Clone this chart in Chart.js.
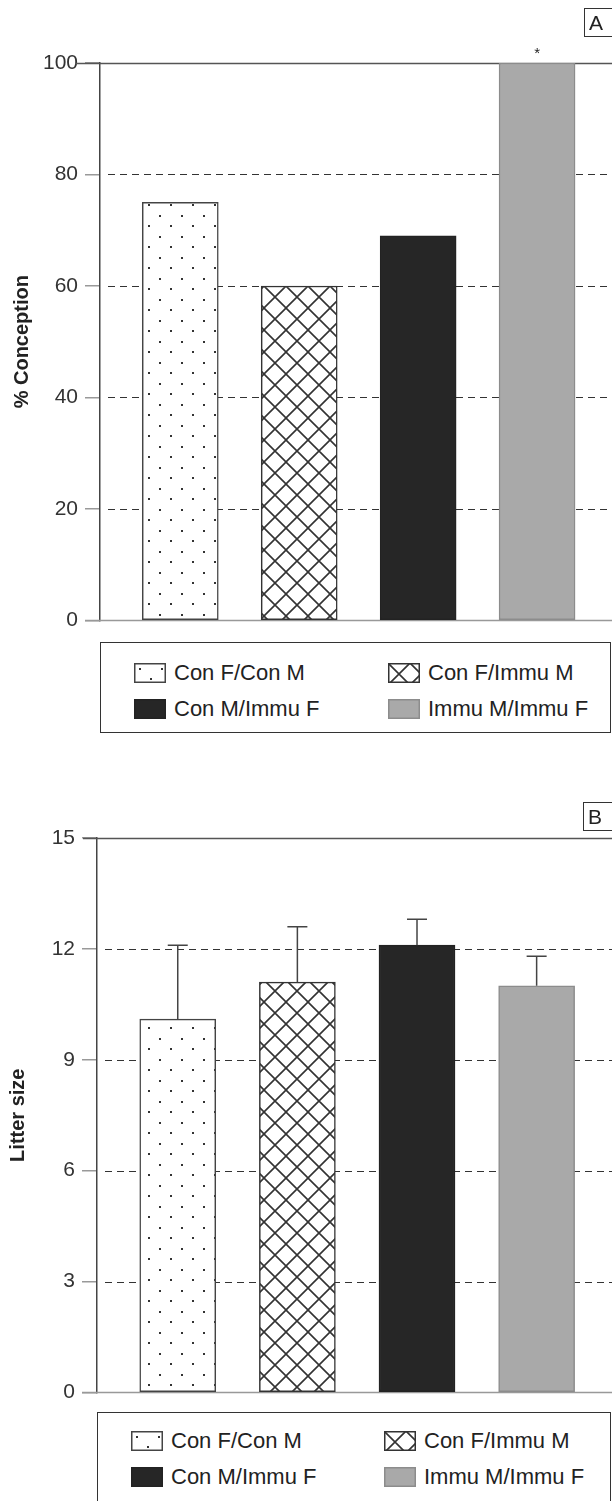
<!DOCTYPE html>
<html>
<head>
<meta charset="utf-8">
<script src="https://cdn.jsdelivr.net/npm/chart.js@4.4.0/dist/chart.umd.min.js"></script>
<style>
  body { margin: 0; background: #fff; font-family: "Liberation Sans", Arial, sans-serif; }
  #page { position: relative; width: 612px; height: 1501px; overflow: hidden; background: #fff; }
  .cv { position: absolute; left: 0; }
  .legend { position: absolute; border: 1.5px solid #333; box-sizing: border-box; }
  .item { position: absolute; height: 24px; display: flex; align-items: center; font-size: 22px; color: #222; white-space: nowrap; }
  .item canvas { margin-right: 8px; }
  .tag { position: absolute; border: 1.5px solid #333; border-right: none; font-size: 21px; color: #222; padding: 0 20px 0 4px; line-height: 27px; }
</style>
</head>
<body>
<div id="page">
  <canvas id="chartA" class="cv" width="612" height="640" style="top:0"></canvas>
  <canvas id="chartB" class="cv" width="612" height="652" style="top:760px"></canvas>
  <div class="tag" style="left:584px;top:8px">A</div>
  <div class="tag" style="left:583px;top:802px">B</div>
  <div id="legendA" class="legend" style="left:100px;top:642px;width:511px;height:91px"></div>
  <div id="legendB" class="legend" style="left:97px;top:1412px;width:514px;height:92px"></div>
</div>
<script>
// data
const categories = ['Con F/Con M', 'Con F/Immu M', 'Con M/Immu F', 'Immu M/Immu F'];
const conception = [75, 60, 69, 100];
const conceptionMarks = ['', '', '', '*'];
const conceptionTicks = [0, 20, 40, 60, 80, 100];
const litterSize = [10.1, 11.1, 12.1, 11.0];
const litterErr = [2.0, 1.5, 0.7, 0.8];
const litterTicks = [0, 3, 6, 9, 12, 15];

// fill patterns for the four groups
function dotPattern() {
    const c = document.createElement('canvas');
    c.width = 22; c.height = 21;
    const g = c.getContext('2d');
    g.fillStyle = '#fff';
    g.fillRect(0, 0, 22, 21);
    g.fillStyle = '#333';
    g.fillRect(5, 5, 2, 2);
    g.fillRect(16, 15, 2, 2);
    return g.createPattern(c, 'repeat');
}
function crossPattern() {
    const c = document.createElement('canvas');
    c.width = 22; c.height = 22;
    const g = c.getContext('2d');
    g.fillStyle = '#fff';
    g.fillRect(0, 0, 22, 22);
    g.strokeStyle = '#333';
    g.lineWidth = 1.6;
    g.beginPath();
    g.moveTo(-1, -1); g.lineTo(23, 23);
    g.moveTo(23, -1); g.lineTo(-1, 23);
    g.stroke();
    return g.createPattern(c, 'repeat');
}
const fills = [dotPattern(), crossPattern(), '#262626', '#a9a9a9'];
const edges = ['#444', '#333', '#222', '#8c8c8c'];

// gridlines, top/bottom frame, error bars and markers
const framePlugin = {
    id: 'frame',
    beforeDatasetsDraw(chart, args, opts) {
        const { ctx, chartArea: a, scales: { y } } = chart;
        ctx.save();
        y.ticks.forEach(t => {
            const py = Math.round(y.getPixelForValue(t.value)) + 0.5;
            ctx.beginPath();
            if (t.value === y.max) {
                ctx.setLineDash([]);
                ctx.strokeStyle = '#555';
                ctx.lineWidth = 1.5;
                ctx.moveTo(opts.topFrom, py);
            } else if (t.value === y.min) {
                ctx.setLineDash([]);
                ctx.strokeStyle = '#999';
                ctx.lineWidth = 1.5;
                ctx.moveTo(a.left - 15, py);
            } else {
                ctx.setLineDash([7, 5]);
                ctx.strokeStyle = '#333';
                ctx.lineWidth = 1.2;
                ctx.moveTo(a.left + 8, py);
            }
            ctx.lineTo(a.right, py);
            ctx.stroke();
        });
        ctx.restore();
    },
    afterDatasetsDraw(chart, args, opts) {
        const { ctx, scales: { x, y } } = chart;
        const vals = chart.data.datasets[0].data;
        ctx.save();
        if (opts.err) {
            ctx.strokeStyle = '#444';
            ctx.lineWidth = 1.5;
            vals.forEach((d, i) => {
                const px = x.getPixelForValue(d.x);
                const y0 = y.getPixelForValue(d.y);
                const y1 = y.getPixelForValue(d.y + opts.err[i]);
                ctx.beginPath();
                ctx.moveTo(px, y0); ctx.lineTo(px, y1);
                ctx.moveTo(px - 10, y1); ctx.lineTo(px + 10, y1);
                ctx.stroke();
            });
        }
        if (opts.marks) {
            ctx.fillStyle = '#222';
            ctx.font = '15px "Liberation Sans", Arial, sans-serif';
            ctx.textAlign = 'center';
            ctx.textBaseline = 'middle';
            vals.forEach((d, i) => {
                if (!opts.marks[i]) return;
                ctx.fillText(opts.marks[i], x.getPixelForValue(d.x), y.getPixelForValue(d.y) - 9);
            });
        }
        ctx.restore();
    }
};

function makeChart(id, values, ticks, title, axisWidth, padTop, titlePad, frame) {
    const ctx = document.getElementById(id).getContext('2d');
    return new Chart(ctx, {
        type: 'bar',
        data: {
            datasets: [{
                data: values.map((v, i) => ({ x: i, y: v })),
                backgroundColor: fills,
                borderColor: edges,
                borderWidth: 1.5,
                borderSkipped: false,
                barThickness: 76
            }]
        },
        options: {
            responsive: false,
            animation: false,
            layout: { padding: { top: padTop, bottom: 15, left: 0, right: 0 } },
            plugins: {
                legend: { display: false },
                tooltip: { enabled: false },
                frame: frame
            },
            scales: {
                x: { type: 'linear', min: -0.675, max: 3.63, offset: false, display: false },
                y: {
                    min: ticks[0],
                    max: ticks[ticks.length - 1],
                    afterBuildTicks: s => { s.ticks = ticks.map(v => ({ value: v })); },
                    afterFit: s => { s.width = axisWidth; },
                    grid: { drawOnChartArea: false, drawTicks: true, tickLength: 15, color: '#999', lineWidth: 1.5 },
                    border: { display: true, color: '#444', width: 1.5 },
                    ticks: {
                        padding: 7,
                        color: '#333',
                        font: { family: '"Liberation Sans", Arial, sans-serif', size: 21 }
                    },
                    title: {
                        display: true,
                        text: title,
                        color: '#222',
                        padding: { top: titlePad, bottom: 0 },
                        font: { family: '"Liberation Sans", Arial, sans-serif', size: 20, weight: 'bold' }
                    }
                }
            }
        },
        plugins: [framePlugin]
    });
}

makeChart('chartA', conception, conceptionTicks, '% Conception', 100, 63, 10,
    { topFrom: 75, marks: conceptionMarks });
makeChart('chartB', litterSize, litterTicks, 'Litter size', 97, 78, 6,
    { topFrom: 83, err: litterErr });

// html legends with small swatches
function swatch(i) {
    const c = document.createElement('canvas');
    c.width = 32; c.height = 20;
    const g = c.getContext('2d');
    g.fillStyle = fills[i];
    g.fillRect(0, 0, 32, 20);
    g.strokeStyle = edges[i];
    g.lineWidth = 1.5;
    g.strokeRect(0.75, 0.75, 30.5, 18.5);
    return c;
}
function buildLegend(id, cols, rows) {
    const box = document.getElementById(id);
    const r = box.getBoundingClientRect();
    categories.forEach((name, i) => {
        const el = document.createElement('div');
        el.className = 'item';
        el.style.left = (cols[i % 2] - r.left) + 'px';
        el.style.top = (rows[Math.floor(i / 2)] - 12 - r.top) + 'px';
        el.appendChild(swatch(i));
        el.appendChild(document.createTextNode(name));
        box.appendChild(el);
    });
}
buildLegend('legendA', [133, 387], [672, 708]);
buildLegend('legendB', [130, 383], [1440, 1476]);
</script>
</body>
</html>
